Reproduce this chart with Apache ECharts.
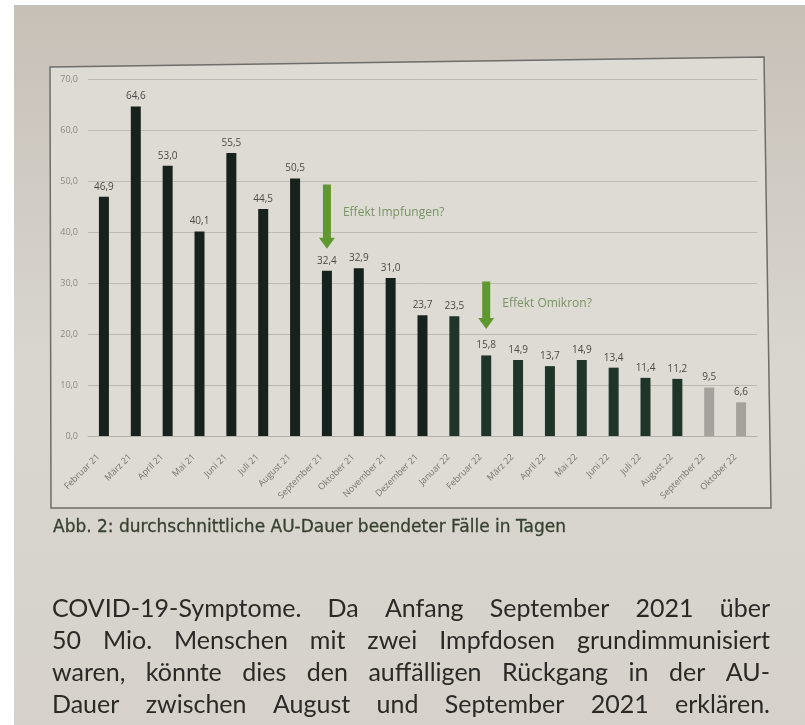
<!DOCTYPE html>
<html>
<head>
<meta charset="utf-8">
<script src="https://cdn.jsdelivr.net/npm/echarts@6/dist/echarts.min.js"></script>
<style>
  html, body { margin: 0; padding: 0; background: #ffffff; }
  #chart { width: 805px; height: 725px; }
</style>
</head>
<body>
<div id="chart"></div>
<script>
// ---------- data ----------
const categories = ['Februar 21', 'März 21', 'April 21', 'Mai 21', 'Juni 21', 'Juli 21', 'August 21',
  'September 21', 'Oktober 21', 'November 21', 'Dezember 21', 'Januar 22', 'Februar 22', 'März 22',
  'April 22', 'Mai 22', 'Juni 22', 'Juli 22', 'August 22', 'September 22', 'Oktober 22'];
const values = [46.9, 64.6, 53.0, 40.1, 55.5, 44.5, 50.5, 32.4, 32.9, 31.0, 23.7, 23.5, 15.8, 14.9,
  13.7, 14.9, 13.4, 11.4, 11.2, 9.5, 6.6];
const yTickValues = [0, 10, 20, 30, 40, 50, 60, 70];

const arrowCategories = ['September 21', 'Februar 22'];
const arrowTopValues = [49.3, 30.3];
const arrowTipValues = [36.7, 21.0];
const arrowTextValues = [43.8, 26.0];
const arrowTexts = ['Effekt Impfungen?', 'Effekt Omikron?'];

const captionText = 'Abb. 2: durchschnittliche AU-Dauer beendeter Fälle in Tagen';
const bodyLines = [
  'COVID-19-Symptome. Da Anfang September 2021 über',
  '50 Mio. Menschen mit zwei Impfdosen grundimmunisiert',
  'waren, könnte dies den auffälligen Rückgang in der AU-',
  'Dauer zwischen August und September 2021 erklären.'
];

// ---------- styles ----------
const fmt = v => Number(v).toFixed(1).replace('.', ',');
function barColor(cat) {
  if (cat === 'September 22' || cat === 'Oktober 22') return '#a4a29d';
  if (cat.endsWith('22')) return '#1f3529';
  return '#18221c';
}

const chart = echarts.init(document.getElementById('chart'), null, { renderer: 'canvas' });
const ctx = document.createElement('canvas').getContext('2d');

// caption, sized to its printed width
const captionFamily = '"DejaVu Sans", "Noto Sans", sans-serif';
ctx.font = '15px ' + captionFamily;
const captionSize = Math.min(17, 15 * 514 / ctx.measureText(captionText).width);
const captionFont = captionSize.toFixed(2) + 'px ' + captionFamily;

// justified body text
const bodyFont = '25px Lato, "Open Sans", sans-serif';
ctx.font = bodyFont;
const bodyLeft = 52, bodyRight = 770, bodyTop = 609, bodyStep = 32;
const bodyElems = [];
bodyLines.forEach((line, li) => {
  const words = line.split(' ');
  const widths = words.map(w => ctx.measureText(w).width);
  const total = widths.reduce((a, b) => a + b, 0);
  const gap = (bodyRight - bodyLeft - total) / (words.length - 1);
  let x = bodyLeft;
  words.forEach((w, wi) => {
    bodyElems.push({
      type: 'text', z: 5,
      style: { text: w, x: x, y: bodyTop + li * bodyStep, font: bodyFont, fill: '#2b2926', verticalAlign: 'middle' }
    });
    x += widths[wi] + gap;
  });
});

const option = {
  backgroundColor: '#ffffff',
  animation: false,
  grid: { left: 88, right: 48, top: 79, bottom: 289 },
  xAxis: {
    type: 'category',
    data: categories,
    axisLine: { show: true, lineStyle: { color: '#b3b0aa', width: 1 } },
    axisTick: { show: false },
    axisLabel: {
      rotate: 45, fontSize: 9, color: '#76746f', margin: 14,
      padding: [0, 8, 0, 0],
      fontFamily: '"Open Sans", sans-serif', interval: 0
    }
  },
  yAxis: {
    type: 'value',
    min: 0, max: 70, interval: 10,
    axisLine: { show: false },
    axisTick: { show: false },
    splitLine: { lineStyle: { color: '#bdbab4', width: 1 } },
    axisLabel: {
      fontSize: 9, color: '#8a8884', margin: 10,
      fontFamily: '"Open Sans", sans-serif',
      formatter: v => yTickValues.includes(v) ? fmt(v) : ''
    }
  },
  series: [
    {
      type: 'bar',
      data: values.map((v, i) => ({ value: v, itemStyle: { color: barColor(categories[i]) } })),
      barWidth: 10,
      label: {
        show: true, position: 'top', distance: 5,
        fontSize: 10, color: '#4a4946', fontFamily: '"Open Sans", sans-serif',
        formatter: p => fmt(p.value)
      }
    },
    {
      type: 'custom',
      z: 5,
      data: arrowCategories.map((c, i) => [categories.indexOf(c), arrowTopValues[i], arrowTipValues[i], arrowTextValues[i]]),
      encode: { x: 0, y: [1, 2, 3] },
      renderItem: function (params, api) {
        const x = api.value(0);
        const pTop = api.coord([x, api.value(1)]);
        const pTip = api.coord([x, api.value(2)]);
        const pText = api.coord([x, api.value(3)]);
        const cx = pTop[0];
        const sw = 4, hw = 8, hh = 11;
        const yh = pTip[1] - hh;
        return {
          type: 'group',
          children: [
            {
              type: 'polygon',
              shape: { points: [[cx - sw, pTop[1]], [cx + sw, pTop[1]], [cx + sw, yh], [cx + hw, yh],
                [cx, pTip[1]], [cx - hw, yh], [cx - sw, yh]] },
              style: { fill: '#5f982f' }
            },
            {
              type: 'text',
              style: {
                text: arrowTexts[params.dataIndex], x: cx + 16, y: pText[1],
                verticalAlign: 'middle', fill: '#779462',
                font: '12px "Open Sans", sans-serif'
              }
            }
          ]
        };
      }
    }
  ],
  graphic: [
    {
      type: 'rect', z: -20,
      shape: { x: 14, y: 5, width: 791, height: 720 },
      style: {
        fill: {
          type: 'linear', x: 0, y: 0, x2: 0, y2: 1,
          colorStops: [
            { offset: 0, color: '#c7c0b7' },
            { offset: 0.5, color: '#d9d6d0' },
            { offset: 1, color: '#d6d2cb' }
          ]
        }
      }
    },
    {
      type: 'polygon', z: -15,
      shape: { points: [[50, 67], [764, 57], [771, 508], [51, 508]] },
      style: { fill: '#dedbd5', stroke: '#6e6d6a', lineWidth: 1.5 }
    },
    {
      type: 'text', z: 5,
      style: {
        text: captionText, x: 53, y: 528, verticalAlign: 'middle',
        font: captionFont, fill: '#36412f', stroke: '#36412f', lineWidth: 0.3
      }
    },
    ...bodyElems
  ]
};
chart.setOption(option);
</script>
</body>
</html>
